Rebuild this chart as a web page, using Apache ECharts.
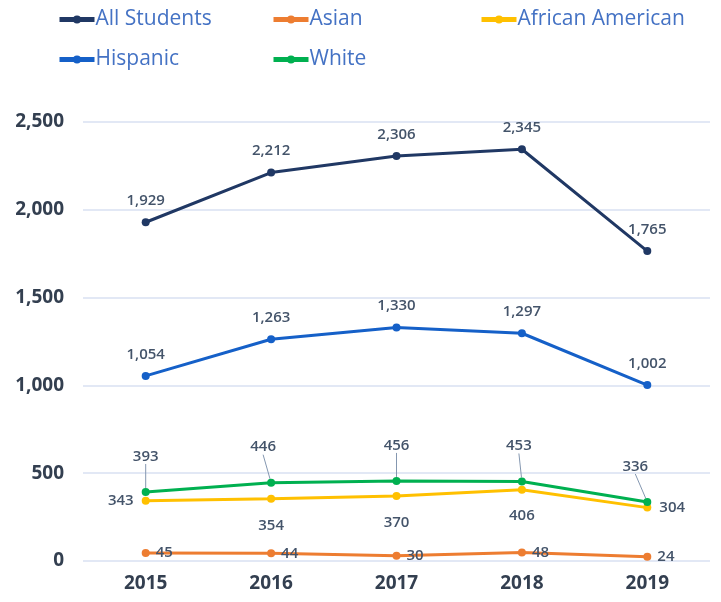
<!DOCTYPE html>
<html>
<head>
<meta charset="utf-8">
<script src="https://cdn.jsdelivr.net/npm/echarts@6/dist/echarts.min.js"></script>
<style>
  html, body { margin: 0; padding: 0; background: #fff; }
  #main { width: 721px; height: 602px; }
</style>
</head>
<body>
<div id="main"></div>
<script>
var years = ['2015', '2016', '2017', '2018', '2019'];
var allStudents = [1929, 2212, 2306, 2345, 1765];
var asian = [45, 44, 30, 48, 24];
var africanAmerican = [343, 354, 370, 406, 304];
var hispanic = [1054, 1263, 1330, 1297, 1002];
var white = [393, 446, 456, 453, 336];

var fontFam = '"Open Sans", "Noto Sans", sans-serif';
var labelColor = '#44546A';
var fmt = function (p) { return p.value.toLocaleString('en-US'); };

// African American: first label left, last right, the rest below the point
var aaData = africanAmerican.map(function (v, i) {
  var pos = i === 0 ? 'left' : (i === africanAmerican.length - 1 ? 'right' : 'bottom');
  return { value: v, label: { position: pos, distance: pos === 'bottom' ? 15 : 8 } };
});

function lineSeries(name, data, color, label, extra) {
  var s = {
    name: name,
    type: 'line',
    data: data,
    symbol: 'circle',
    symbolSize: 8,
    lineStyle: { width: 3, color: color },
    itemStyle: { color: color },
    label: Object.assign({
      show: true,
      color: labelColor,
      fontSize: 15,
      fontWeight: 600,
      fontFamily: fontFam,
      formatter: fmt
    }, label)
  };
  return Object.assign(s, extra || {});
}

var legendStyle = function (name, left, top) {
  return {
    data: [name],
    left: left,
    top: top,
    padding: 0,
    itemWidth: 35,
    itemHeight: 10,
    lineStyle: { width: 5 },
    textStyle: { color: '#4472C4', fontSize: 21, fontFamily: fontFam, padding: [0, 0, 0, -4] }
  };
};

var chart = echarts.init(document.getElementById('main'));
chart.setOption({
  animation: false,
  legend: [
    legendStyle('All Students', 57, 9),
    legendStyle('Asian', 271, 9),
    legendStyle('African American', 479, 9),
    legendStyle('Hispanic', 57, 49),
    legendStyle('White', 271, 49)
  ],
  grid: { left: 83, right: 11, top: 122, bottom: 41, containLabel: false },
  xAxis: {
    type: 'category',
    data: years,
    axisLine: { show: false },
    axisTick: { show: false },
    axisLabel: { color: '#333F50', fontSize: 19, fontWeight: 'bold', fontFamily: fontFam, margin: 13 }
  },
  yAxis: {
    type: 'value',
    min: 0,
    max: 2500,
    interval: 500,
    axisLabel: {
      color: '#333F50', fontSize: 19, fontWeight: 'bold', fontFamily: fontFam, margin: 19,
      formatter: function (v) { return v.toLocaleString('en-US'); }
    },
    splitLine: { lineStyle: { color: '#D9E1F2', width: 1.5 } }
  },
  series: [
    lineSeries('All Students', allStudents, '#203864', { position: 'top', distance: 10 }),
    lineSeries('Asian', asian, '#ED7D31', { position: 'right', distance: 6 }),
    lineSeries('African American', aaData, '#FFC000', {}),
    lineSeries('Hispanic', hispanic, '#1560C8', { position: 'top', distance: 10 }),
    lineSeries('White', white, '#00B050', { position: 'top', distance: 6 }, {
      labelLayout: function (p) {
        var dx = [0, -8, 0, -3, -12][p.dataIndex];
        return { dy: -18, dx: dx };
      },
      labelLine: { show: true, lineStyle: { color: '#8497B0', width: 1 } }
    })
  ]
});
</script>
</body>
</html>
